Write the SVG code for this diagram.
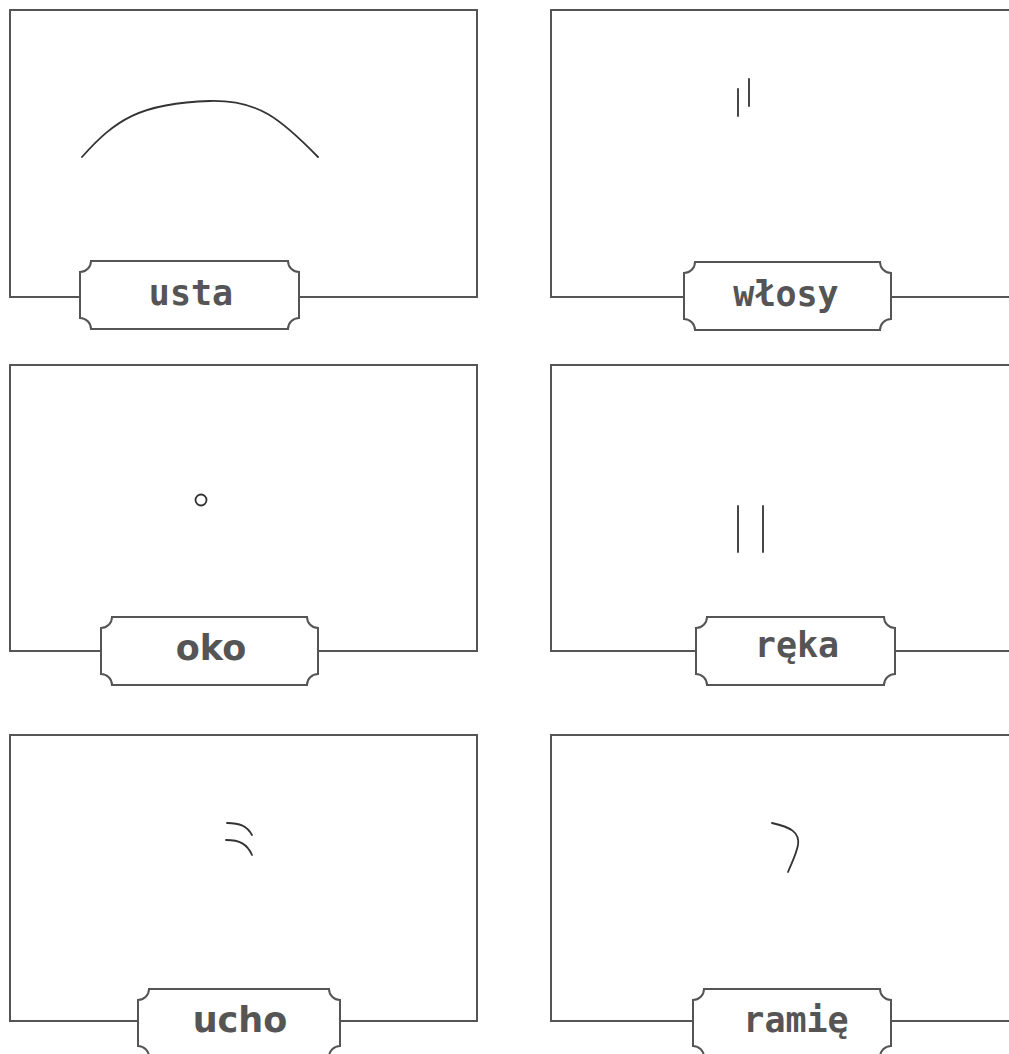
<svg xmlns="http://www.w3.org/2000/svg" width="1009" height="1054" viewBox="0 0 1009 1054">
<style>
.box{fill:#fff;stroke:#555;stroke-width:2}
.lbl{fill:#fff;stroke:#555;stroke-width:2}
.draw{fill:none;stroke:#333;stroke-width:1.8;stroke-linecap:round}
.t{fill:#555;font-size:35px;font-weight:bold;text-anchor:middle}
.sans{font-family:"DejaVu Sans",Verdana,sans-serif}
.mono{font-family:"DejaVu Sans Mono",monospace}
</style>
<rect width="1009" height="1054" fill="#fff"/>
<g id="connectors"></g>
<g id="usta">
<rect class="box" x="10" y="10" width="467" height="287"/>
<path class="draw" d="M82,157 C115,120 140,103 210,101 C258,100 280,118 318,157"/>
<path class="lbl" d="M91,261 H288 A11,11 0 0 0 299,272 V318 A11,11 0 0 0 288,329 H91 A11,11 0 0 0 80,318 V272 A11,11 0 0 0 91,261 Z"/>
<text class="t mono" x="191" y="305">usta</text>
</g>
<g id="wlosy">
<rect class="box" x="551" y="10" width="470" height="287"/>
<path class="draw" d="M738,89 V116 M749,79 V106"/>
<path class="lbl" d="M695,262 H880 A11,11 0 0 0 891,273 V319 A11,11 0 0 0 880,330 H695 A11,11 0 0 0 684,319 V273 A11,11 0 0 0 695,262 Z"/>
<text class="t mono" x="786" y="306">włosy</text>
</g>
<g id="oko">
<rect class="box" x="10" y="365" width="467" height="286"/>
<circle class="draw" cx="201" cy="500" r="5.5"/>
<path class="lbl" d="M112,617 H307 A11,11 0 0 0 318,628 V674 A11,11 0 0 0 307,685 H112 A11,11 0 0 0 101,674 V628 A11,11 0 0 0 112,617 Z"/>
<text class="t sans" x="211" y="660">oko</text>
</g>
<g id="reka">
<rect class="box" x="551" y="365" width="470" height="286"/>
<path class="draw" d="M738,506 V552 M763,506 V552"/>
<path class="lbl" d="M707,617 H884 A11,11 0 0 0 895,628 V674 A11,11 0 0 0 884,685 H707 A11,11 0 0 0 696,674 V628 A11,11 0 0 0 707,617 Z"/>
<text class="t mono" x="797" y="657">ręka</text>
</g>
<g id="ucho">
<rect class="box" x="10" y="735" width="467" height="286"/>
<path class="draw" d="M227,823 C240,823 247,826 252,835 M226,840 C240,840 247,844 252,855"/>
<path class="lbl" d="M149,989 H329 A11,11 0 0 0 340,1000 V1046 A11,11 0 0 0 329,1057 H149 A11,11 0 0 0 138,1046 V1000 A11,11 0 0 0 149,989 Z"/>
<text class="t sans" x="240" y="1032">ucho</text>
</g>
<g id="ramie">
<rect class="box" x="551" y="735" width="470" height="286"/>
<path class="draw" d="M772,823 C790,827 800,832 798,845 C796,855 792,862 788,872"/>
<path class="lbl" d="M704,989 H880 A11,11 0 0 0 891,1000 V1046 A11,11 0 0 0 880,1057 H704 A11,11 0 0 0 693,1046 V1000 A11,11 0 0 0 704,989 Z"/>
<text class="t mono" x="796" y="1032">ramię</text>
</g>
</svg>
